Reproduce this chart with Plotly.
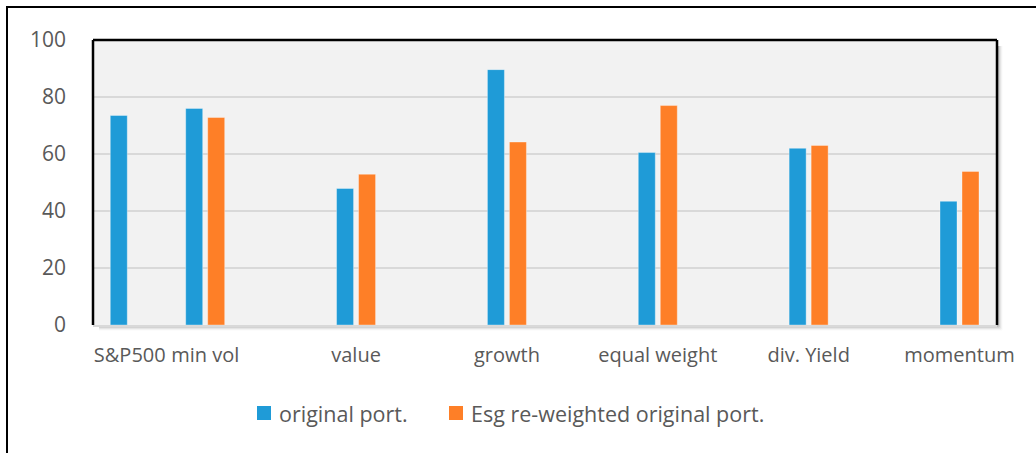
import plotly.graph_objects as go

# Portfolio scores per strategy
categories = ["S&P500", "min vol", "value", "growth", "equal weight", "div. Yield", "momentum"]
original_port = [73.5, 76.0, 47.9, 89.6, 60.5, 62.0, 43.4]
esg_reweighted = [None, 72.8, 52.9, 64.2, 77.0, 63.0, 53.9]
y_ticks = [0, 20, 40, 60, 80, 100]

# The benchmark sits half a slot to the left of the strategy groups
x_pos = [-0.5] + list(range(len(categories) - 1))

W, H = 1036, 453
L, R, T, B = 93, 997, 40, 325
SLOT = 150.86  # pixels per category slot
BAR_W = 17 / SLOT

BLUE = "#1f9bd7"
ORANGE = "#fe7f27"
TXT = "#595959"
FONT = "Open Sans"


def px_x(px):
    return (px - L) / (R - L)


def px_y(py):
    return (B - py) / (B - T)


fig = go.Figure()
fig.add_trace(go.Bar(
    x=x_pos, y=original_port, name="original port.",
    marker=dict(color=BLUE, line=dict(color="rgba(255,255,255,0.35)", width=1)),
    width=BAR_W, offset=-19.5 / SLOT,
))
fig.add_trace(go.Bar(
    x=x_pos, y=esg_reweighted, name="Esg re-weighted original port.",
    marker=dict(color=ORANGE, line=dict(color="rgba(255,255,255,0.35)", width=1)),
    width=BAR_W, offset=2.5 / SLOT,
))

shapes = []
annotations = []
# soft drop shadow along the bottom and right of the plot area
for i, a in enumerate([0.22, 0.15, 0.09, 0.05, 0.02]):
    d = i + 1
    shapes.append(dict(type="line", xref="paper", yref="paper",
                       x0=px_x(L + 6), x1=px_x(R + d), y0=px_y(B + d), y1=px_y(B + d),
                       line=dict(color=f"rgba(0,0,0,{a})", width=1.5), layer="below"))
    shapes.append(dict(type="line", xref="paper", yref="paper",
                       x0=px_x(R + d), x1=px_x(R + d), y0=px_y(T + 6), y1=px_y(B + d),
                       line=dict(color=f"rgba(0,0,0,{a})", width=1.5), layer="below"))
# plot area frame: top, left, right
shapes.append(dict(type="line", xref="paper", yref="paper", x0=0, x1=1, y0=1, y1=1,
                   line=dict(color="black", width=2.5)))
shapes.append(dict(type="line", xref="paper", yref="paper", x0=0, x1=0, y0=0, y1=1,
                   line=dict(color="black", width=2.5)))
shapes.append(dict(type="line", xref="paper", yref="paper", x0=1, x1=1, y0=0, y1=1,
                   line=dict(color="black", width=2.5)))
# outer chart frame (runs past the right and bottom edges of the page)
shapes.append(dict(type="rect", xref="paper", yref="paper",
                   x0=px_x(7), x1=px_x(W + 20), y0=px_y(7), y1=px_y(H + 20),
                   line=dict(color="black", width=2), fillcolor="rgba(0,0,0,0)"))

# legend row below the axis: square swatch followed by the series name
legend_y = 413
for trace, sw_left in zip(fig.data, [257, 449]):
    shapes.append(dict(type="rect", xref="paper", yref="paper",
                       x0=px_x(sw_left), x1=px_x(sw_left + 14),
                       y0=px_y(legend_y - 7), y1=px_y(legend_y + 7),
                       fillcolor=trace.marker.color, line=dict(width=0)))
    annotations.append(dict(xref="paper", yref="paper",
                            x=px_x(sw_left + 20), y=px_y(legend_y),
                            xanchor="left", yanchor="middle", showarrow=False,
                            text=trace.name,
                            font=dict(size=21.5, color=TXT, family=FONT)))

fig.update_layout(
    width=W, height=H,
    margin=dict(l=L, r=W - R, t=T, b=H - B),
    paper_bgcolor="white",
    plot_bgcolor="#f2f2f2",
    barmode="overlay",
    font=dict(family=FONT, color=TXT, size=20),
    showlegend=False,
    shapes=shapes,
    annotations=annotations,
    xaxis=dict(
        range=[(L - 205.2) / SLOT, (R - 205.2) / SLOT],
        tickmode="array", tickvals=x_pos, ticktext=categories,
        showgrid=False, zeroline=False, showline=True,
        linecolor="#d9d9d9", linewidth=2,
        ticks="", ticklabelstandoff=11,
        tickfont=dict(size=20, color=TXT, family=FONT),
        fixedrange=True,
    ),
    yaxis=dict(
        range=[0, 100], tickmode="array", tickvals=y_ticks,
        showgrid=True, gridcolor="#d9d9d9", gridwidth=2,
        zeroline=False, showline=False, ticks="",
        ticklabelstandoff=26,
        tickfont=dict(size=21, color=TXT, family=FONT),
        fixedrange=True,
    ),
)

fig.write_html("out.html", config={"displayModeBar": False})
